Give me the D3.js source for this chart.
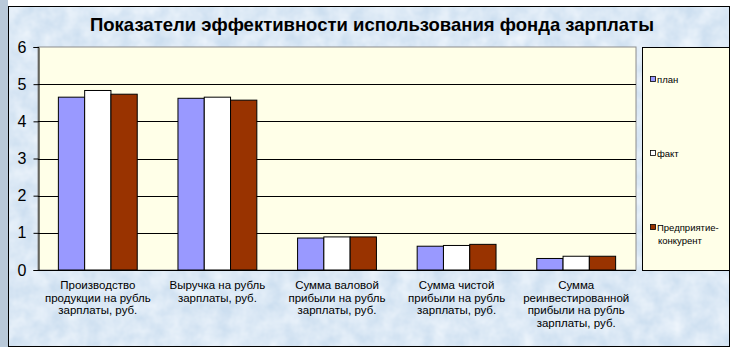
<!DOCTYPE html>
<html><head><meta charset="utf-8">
<script src="https://cdnjs.cloudflare.com/ajax/libs/d3/7.8.5/d3.min.js"></script>
<style>body{margin:0;background:#fff}svg{display:block;font-family:"Liberation Sans",Arial,sans-serif}</style>
</head><body>
<script>
const title = "Показатели эффективности использования фонда зарплаты";
const categories = [
  ["Производство", "продукции на рубль", "зарплаты, руб."],
  ["Выручка на рубль", "зарплаты, руб."],
  ["Сумма валовой", "прибыли на рубль", "зарплаты, руб."],
  ["Сумма чистой", "прибыли на рубль", "зарплаты, руб."],
  ["Сумма", "реинвестированной", "прибыли на рубль", "зарплаты, руб."]
];
const seriesNames = ["план", "факт", "Предприятие-конкурент"];
const plan = [4.65, 4.62, 0.86, 0.64, 0.31];
const fakt = [4.83, 4.65, 0.89, 0.66, 0.37];
const konkurent = [4.73, 4.57, 0.89, 0.69, 0.37];
const yTicks = [0, 1, 2, 3, 4, 5, 6];
const colors = ["#9999FF", "#FFFFFF", "#993300"];
const series = [plan, fakt, konkurent];

const W = 738, H = 352;
const svg = d3.select("body").append("svg").attr("width", W).attr("height", H);
const defs = svg.append("defs");
const f = defs.append("filter").attr("id", "tex").attr("x", 0).attr("y", 0).attr("width", 1).attr("height", 1);
f.append("feTurbulence").attr("type", "fractalNoise").attr("baseFrequency", 0.06).attr("numOctaves", 3).attr("seed", 4).attr("result", "n");
f.append("feColorMatrix").attr("in", "n").attr("type", "matrix")
  .attr("values", "0 0 0 0 0.88  0 0 0 0 0.93  0 0 0 0 0.98  0 0 0 -1.2 1.0").attr("result", "c");
f.append("feComposite").attr("in", "c").attr("in2", "SourceGraphic").attr("operator", "in");

// left strip outside frame
svg.append("rect").attr("x", 0).attr("y", 0).attr("width", 8).attr("height", 347).attr("fill", "#b9c9d9");

// chart area background
svg.append("rect").attr("x", 8).attr("y", 6).attr("width", 722).attr("height", 341).attr("fill", "#cddff0");
svg.append("rect").attr("x", 8).attr("y", 6).attr("width", 722).attr("height", 341).attr("fill", "#e6eef8").attr("filter", "url(#tex)");
svg.append("rect").attr("x", 8.5).attr("y", 6.5).attr("width", 721).attr("height", 340).attr("fill", "none").attr("stroke", "#000");

// title
svg.append("text").attr("x", 372).attr("y", 31).attr("text-anchor", "middle")
  .attr("font-size", 18.5).attr("font-weight", "bold").attr("fill", "#000").text(title);

const pl = 38, pr = 636, pt = 47, pb = 270;
svg.append("rect").attr("x", pl).attr("y", pt).attr("width", pr - pl).attr("height", pb - pt)
  .attr("fill", "#FFFFE8").attr("stroke", "#8c8c8c").attr("stroke-width", 1);

const y = d3.scaleLinear().domain([0, 6]).range([pb, pt]);
const x0 = d3.scaleBand().domain(d3.range(categories.length)).range([pl, pr]).paddingInner(0).paddingOuter(0);
const groupW = x0.bandwidth() * 3 / 4.55;
const x1 = d3.scaleBand().domain(d3.range(3)).range([0, groupW]);

// gridlines
svg.append("g").selectAll("line").data(yTicks.filter(t => t > 0 && t < 6)).join("line")
  .attr("x1", pl).attr("x2", pr).attr("y1", d => Math.round(y(d)) + 0.5).attr("y2", d => Math.round(y(d)) + 0.5)
  .attr("stroke", "#000").attr("stroke-width", 1);

// bars
const g = svg.append("g");
series.forEach((vals, si) => {
  g.selectAll(null).data(vals).join("rect")
    .attr("x", (d, i) => x0(i) + (x0.bandwidth() - groupW) / 2 + x1(si))
    .attr("y", d => y(d))
    .attr("width", x1.bandwidth())
    .attr("height", d => pb - y(d))
    .attr("fill", colors[si]).attr("stroke", "#000").attr("stroke-width", 1);
});

// axis
const yAxis = d3.axisLeft(y).tickValues(yTicks).tickSize(5).tickFormat(d3.format("d"));
const ya = svg.append("g").attr("transform", `translate(${pl + 0.5},0)`).call(yAxis);
ya.select(".domain").attr("stroke", "#000");
ya.selectAll(".tick line").attr("stroke", "#000");
ya.selectAll("text").attr("font-size", 16).attr("font-family", "Liberation Sans, Arial, sans-serif").attr("fill", "#000").attr("x", -12);
svg.append("line").attr("x1", pl).attr("x2", pr).attr("y1", pb + 0.5).attr("y2", pb + 0.5).attr("stroke", "#000");

// category labels
categories.forEach((lines, i) => {
  const t = svg.append("text").attr("text-anchor", "middle").attr("font-size", 11.5).attr("fill", "#000");
  lines.forEach((ln, j) => {
    t.append("tspan").attr("x", x0(i) + x0.bandwidth() / 2).attr("y", 289 + j * 12.7).text(ln);
  });
});

// legend
svg.append("rect").attr("x", 642.5).attr("y", 47.5).attr("width", 87).attr("height", 223)
  .attr("fill", "#FFFFE8").attr("stroke", "#000");
const legY = [80, 154, 228];
seriesNames.forEach((name, i) => {
  svg.append("rect").attr("x", 650.5).attr("y", legY[i] - 3.5).attr("width", 5).attr("height", 5)
    .attr("fill", colors[i]).attr("stroke", "#000").attr("stroke-width", 0.8);
  const t = svg.append("text").attr("font-size", 9.5).attr("fill", "#000");
  if (i === 2) {
    t.append("tspan").attr("x", 657).attr("y", legY[i] + 3).text("Предприятие-");
    t.append("tspan").attr("x", 658).attr("y", legY[i] + 16).text("конкурент");
  } else {
    t.append("tspan").attr("x", 657).attr("y", legY[i] + 3).text(name);
  }
});
</script>
</body></html>
